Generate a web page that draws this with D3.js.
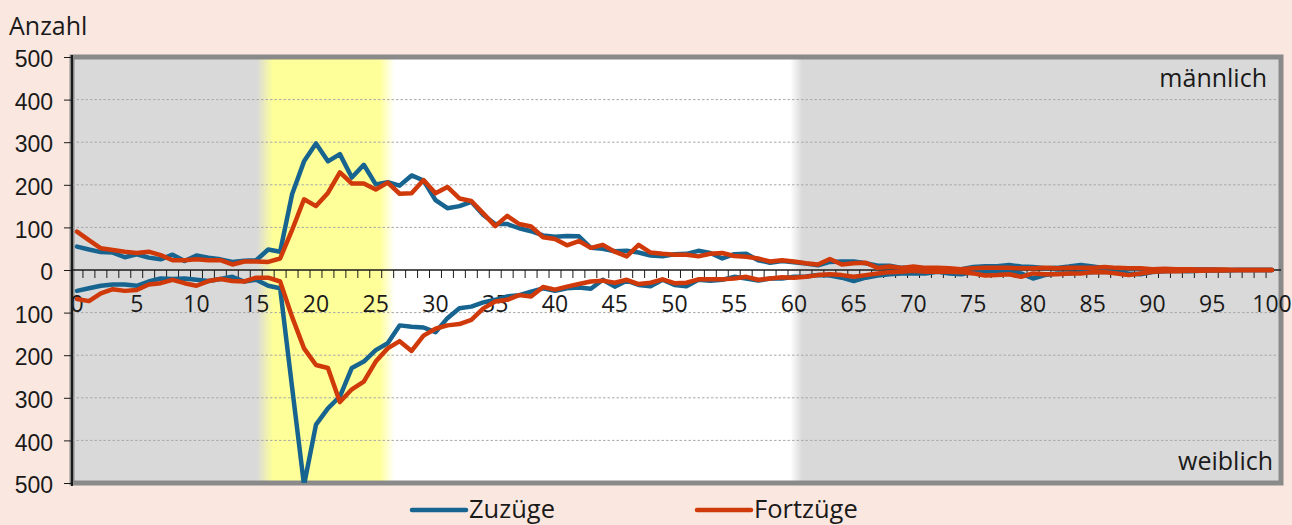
<!DOCTYPE html>
<html lang="de">
<head>
<meta charset="utf-8">
<script src="https://cdn.jsdelivr.net/npm/d3@7/dist/d3.min.js"></script>
<style>
    html, body { margin: 0; padding: 0; background: #fae8e0; }
    svg { display: block; font-family: "Open Sans", "Noto Sans", sans-serif; }
    text { fill: #1a1a1a; }
</style>
</head>
<body>
<svg width="1292" height="525"></svg>
<script>
"use strict";

// Altersjahre 0 bis 100
var alter = d3.range(0, 101);

// Zuzüge männlich (oben)
var zuzuegeMaennlich = [55, 48, 42, 41, 30, 37, 29, 25, 36, 21, 34, 29, 25, 19, 22, 23, 48, 43, 178, 255,
    297, 255, 272, 217, 247, 201, 206, 198, 222, 210, 164, 145, 150, 160, 129, 108, 108, 98, 91, 81,
    78, 80, 79, 52, 50, 44, 45, 41, 34, 32, 37, 38, 45, 40, 27, 37, 38, 23, 17, 21,
    18, 15, 11, 19, 20, 20, 16, 10, 10, 5, 5, 4, 4, 2, 2, 7, 9, 9, 12, 8,
    7, 4, 5, 8, 12, 8, 4, 2, 4, 2, 2, 2, 2, 1, 1, 1, 0, 0, 0, 0, 0];

// Fortzüge männlich (oben)
var fortzuegeMaennlich = [90, 70, 51, 47, 43, 40, 43, 35, 23, 23, 25, 23, 23, 13, 20, 20, 19, 27, 94, 166,
    150, 181, 229, 203, 203, 189, 205, 179, 180, 211, 180, 195, 168, 162, 133, 103, 127, 108, 102, 77,
    73, 58, 68, 52, 59, 43, 32, 59, 41, 38, 36, 36, 32, 38, 40, 33, 31, 27, 20, 23,
    20, 16, 13, 26, 13, 16, 17, 5, 8, 5, 8, 5, 5, 4, 2, 4, 5, 5, 5, 4,
    4, 5, 4, 5, 5, 5, 7, 5, 4, 4, 2, 3, 2, 2, 1, 1, 1, 0, 0, 0, 0];

// Zuzüge weiblich (unten, als Betrag)
var zuzuegeWeiblich = [49, 43, 37, 34, 34, 37, 27, 20, 21, 20, 23, 26, 21, 16, 27, 23, 37, 43, 275, 505,
    363, 325, 297, 230, 215, 188, 172, 130, 133, 135, 146, 113, 90, 86, 76, 70, 62, 59, 51, 43,
    49, 43, 41, 44, 23, 39, 25, 35, 38, 23, 35, 38, 23, 25, 23, 16, 20, 25, 20, 20,
    16, 15, 12, 13, 18, 26, 18, 13, 10, 8, 8, 8, 4, 8, 10, 5, 5, 4, 5, 8,
    20, 12, 8, 8, 5, 5, 4, 5, 8, 10, 5, 3, 2, 3, 2, 1, 1, 0, 0, 0, 0];

// Fortzüge weiblich (unten, als Betrag)
var fortzuegeWeiblich = [68, 73, 55, 45, 49, 47, 34, 31, 23, 31, 37, 26, 21, 26, 27, 18, 18, 27, 110, 184,
    223, 230, 310, 280, 262, 215, 184, 167, 190, 154, 138, 130, 127, 117, 90, 74, 70, 59, 62, 40,
    46, 39, 33, 27, 25, 30, 23, 33, 30, 22, 31, 30, 22, 22, 22, 20, 16, 23, 20, 17,
    18, 16, 12, 10, 12, 16, 12, 8, 5, 4, 2, 4, 4, 4, 5, 8, 13, 12, 10, 16,
    8, 10, 10, 8, 8, 5, 5, 8, 12, 8, 4, 3, 3, 2, 2, 1, 1, 0, 0, 0, 0];

var yTicks = d3.range(-500, 501, 100);
var xLabels = d3.range(0, 101, 5);

// Hintergrundzonen (Alter, Farbe)
var zonen = [[15.45, "#d9d9d9"], [16.8, "#ffff99"], [25.7, "#ffff99"], [26.95, "#ffffff"],
    [60.0, "#ffffff"], [61.0, "#d9d9d9"]];

var blau = "#16648f";
var rot = "#d0390a";

var links = 72, rechts = 1281, oben = 57, unten = 483;

var svg = d3.select("svg");

// die Kategorien enden etwas vor dem rechten Rahmen
var x = d3.scaleBand()
    .domain(alter)
    .range([links - 1, rechts - 3])
    .paddingInner(0)
    .paddingOuter(0);

function xMitte(a) {
    return x(a) + x.bandwidth() / 2;
}

var y = d3.scaleLinear()
    .domain([-500, 500])
    .range([unten, oben]);

var kante = d3.scaleLinear().domain([0, 101]).range([0, 1]);

// Verlauf für die Hintergrundzonen
var defs = svg.append("defs");
var verlauf = defs.append("linearGradient")
    .attr("id", "zonen")
    .attr("gradientUnits", "userSpaceOnUse")
    .attr("x1", links).attr("x2", rechts)
    .attr("y1", 0).attr("y2", 0);

verlauf.selectAll("stop")
    .data(zonen)
    .enter().append("stop")
    .attr("offset", function (d) { return kante(d[0]); })
    .attr("stop-color", function (d) { return d[1]; });

defs.append("clipPath").attr("id", "plotclip")
    .append("rect")
    .attr("x", links).attr("y", oben)
    .attr("width", rechts - links).attr("height", unten - oben);

// Rahmen und Fläche
svg.append("rect")
    .attr("x", links).attr("y", oben)
    .attr("width", rechts - links).attr("height", unten - oben)
    .attr("fill", "url(#zonen)")
    .attr("stroke", "#8a8a8a")
    .attr("stroke-width", 5);

// Gitterlinien
svg.append("g")
    .selectAll("line")
    .data(yTicks.filter(function (d) { return d !== 0 && Math.abs(d) !== 500; }))
    .enter().append("line")
    .attr("x1", links).attr("x2", rechts - 2)
    .attr("y1", function (d) { return y(d); })
    .attr("y2", function (d) { return y(d); })
    .attr("stroke", "#a8a8a8")
    .attr("stroke-width", 1)
    .attr("stroke-dasharray", "2.5,2");

// y-Achse
var yAchse = d3.axisLeft(y)
    .tickValues(yTicks)
    .tickSize(8)
    .tickPadding(11)
    .tickFormat(function (d) { return Math.abs(d); });

var gy = svg.append("g")
    .attr("transform", "translate(" + links + ",0)")
    .call(yAchse);

gy.select(".domain").remove();
gy.selectAll(".tick line").attr("stroke", "#1a1a1a");
gy.selectAll(".tick text")
    .attr("font-size", 23)
    .attr("font-family", null)
    .attr("dy", "0.42em")
    .attr("fill", "#1a1a1a");

svg.append("line")
    .attr("x1", links).attr("x2", links)
    .attr("y1", oben - 2).attr("y2", unten + 3)
    .attr("stroke", "#1a1a1a")
    .attr("stroke-width", 2);

// x-Achse (Nulllinie mit Strichen zwischen den Kategorien)
svg.append("line")
    .attr("x1", links).attr("x2", rechts)
    .attr("y1", y(0)).attr("y2", y(0))
    .attr("stroke", "#1a1a1a")
    .attr("stroke-width", 1.5);

svg.append("g")
    .selectAll("line")
    .data(alter.slice(1))
    .enter().append("line")
    .attr("x1", function (d) { return x(d); })
    .attr("x2", function (d) { return x(d); })
    .attr("y1", y(0))
    .attr("y2", y(0) + 8)
    .attr("stroke", "#1a1a1a")
    .attr("stroke-width", 1);

svg.append("g")
    .selectAll("text")
    .data(xLabels)
    .enter().append("text")
    .attr("x", xMitte)
    .attr("y", 312)
    .attr("text-anchor", "middle")
    .attr("font-size", 23)
    .text(function (d) { return d; });

// Linien
var plot = svg.append("g").attr("clip-path", "url(#plotclip)");

function zeichneLinie(werte, farbe, vorzeichen) {
    var linie = d3.line()
        .x(function (d, i) { return xMitte(alter[i]); })
        .y(function (d) { return y(vorzeichen * d); });

    plot.append("path")
        .datum(werte)
        .attr("d", linie)
        .attr("fill", "none")
        .attr("stroke", farbe)
        .attr("stroke-width", 4.5)
        .attr("stroke-linejoin", "round")
        .attr("stroke-linecap", "round");
}

zeichneLinie(zuzuegeMaennlich, blau, 1);
zeichneLinie(zuzuegeWeiblich, blau, -1);
zeichneLinie(fortzuegeMaennlich, rot, 1);
zeichneLinie(fortzuegeWeiblich, rot, -1);

// Beschriftungen
svg.append("text")
    .attr("x", 9).attr("y", 35)
    .attr("font-size", 25)
    .text("Anzahl");

svg.append("text")
    .attr("x", 1267).attr("y", 87)
    .attr("text-anchor", "end")
    .attr("font-size", 25)
    .text("männlich");

svg.append("text")
    .attr("x", 1273).attr("y", 470)
    .attr("text-anchor", "end")
    .attr("font-size", 25)
    .text("weiblich");

// Legende
var legende = [
    { name: "Zuzüge", farbe: blau, x: 412 },
    { name: "Fortzüge", farbe: rot, x: 697 }
];

var lg = svg.append("g")
    .selectAll("g")
    .data(legende)
    .enter().append("g")
    .attr("transform", function (d) { return "translate(" + d.x + ",510)"; });

lg.append("line")
    .attr("x1", 0).attr("x2", 54)
    .attr("y1", 0).attr("y2", 0)
    .attr("stroke", function (d) { return d.farbe; })
    .attr("stroke-width", 4.5)
    .attr("stroke-linecap", "round");

lg.append("text")
    .attr("x", 57).attr("y", 8)
    .attr("font-size", 25.5)
    .text(function (d) { return d.name; });
</script>
</body>
</html>
